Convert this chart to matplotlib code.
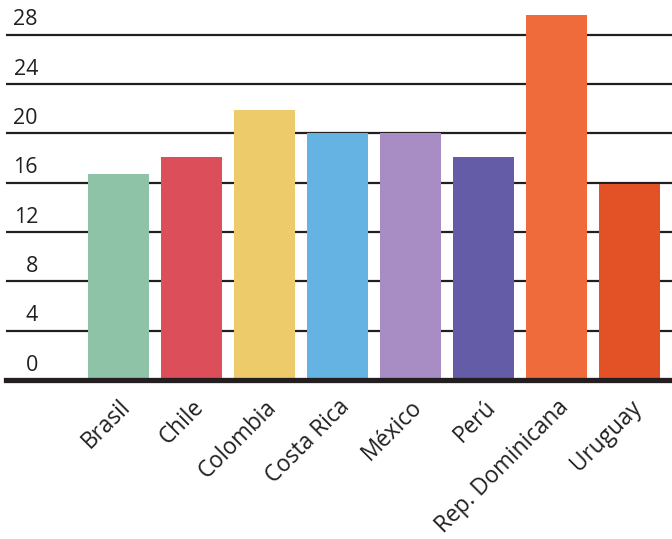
import matplotlib
matplotlib.use("Agg")
import matplotlib.pyplot as plt

plt.rcParams['font.family'] = ['Open Sans', 'DejaVu Sans']

# Data
countries = ['Brasil', 'Chile', 'Colombia', 'Costa Rica', 'México', 'Perú',
             'Rep. Dominicana', 'Uruguay']
values = [16.7, 18.1, 21.9, 20.0, 20.0, 18.1, 29.6, 15.9]
colors = ['#8FC3A8', '#DC4F5A', '#EDCB6A', '#64B3E3', '#A78DC4', '#655CA8',
          '#F06B3C', '#E35226']
yticks = [0, 4, 8, 12, 16, 20, 24, 28]

W, H = 672, 539
fig = plt.figure(figsize=(W / 100, H / 100), dpi=100)
# axes: x from 6px to 672px, y from 380px (value 0) to top
ax = fig.add_axes([6 / W, (H - 380) / H, 1 - 6 / W, 380 / H])

x = list(range(len(countries)))
ax.bar(x, values, width=0.84, color=colors, zorder=3)

for t in yticks[1:]:
    ax.axhline(t, color='#231f20', lw=1.6, zorder=1)
ax.axhline(0, color='#231f20', lw=3.8, zorder=4, clip_on=False)

for t in yticks:
    ax.text((38 - 6) / (W - 6), t + 0.35, str(t), transform=ax.get_yaxis_transform(),
            ha='right', va='bottom', fontsize=15.5, color='#231f20')

ax.set_xlim((6 - 118.5) / 73, (672 - 118.5) / 73)
ax.set_ylim(0, 380 / 12.33)

ax.set_xticks(x)
ax.set_xticklabels(countries, rotation=45, ha='right', rotation_mode='anchor',
                   fontsize=16.3, color='#231f20')
ax.tick_params(axis='x', length=0, pad=11)
ax.set_yticks([])
for s in ax.spines.values():
    s.set_visible(False)

fig.savefig('out.png', dpi=100)
